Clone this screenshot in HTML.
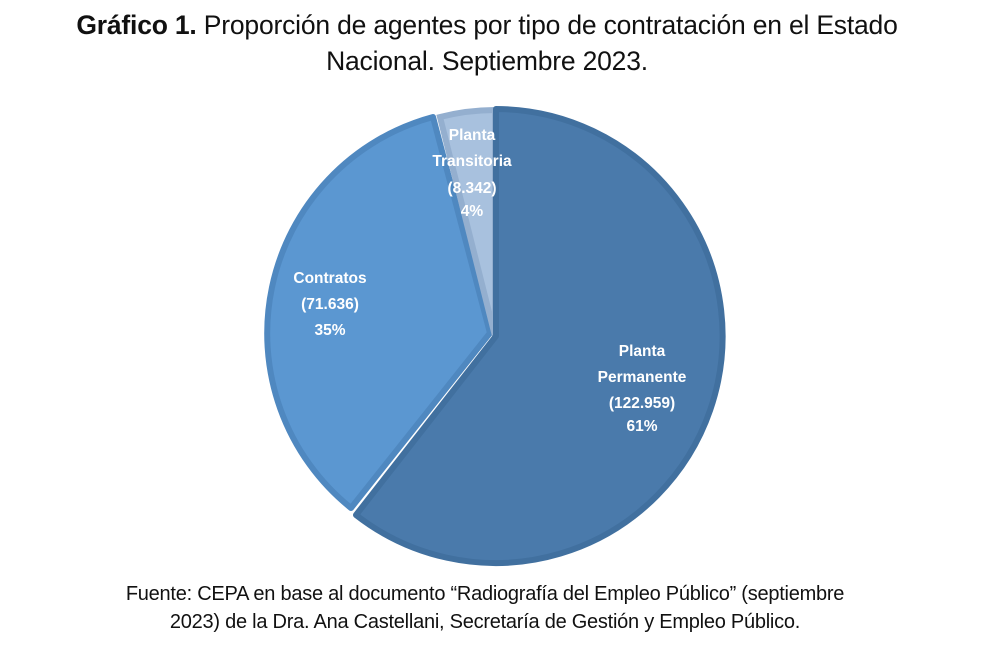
<!DOCTYPE html>
<html><head><meta charset="utf-8"><style>
body{margin:0;width:992px;height:662px;background:#fff;font-family:"Liberation Sans",sans-serif;position:relative;overflow:hidden}
.t{position:absolute;left:0;width:974px;text-align:center;color:#111;font-size:26.5px;line-height:36px;top:7px;letter-spacing:-0.2px}
.f{position:absolute;left:0;width:970px;text-align:center;color:#111;font-size:20px;line-height:28px;top:580px;letter-spacing:-0.25px}
svg{position:absolute;left:0;top:0}
</style></head><body>
<div class="t"><b>Gráfico 1.</b> Proporción de agentes por tipo de contratación en el Estado<br>Nacional. Septiembre 2023.</div>
<svg width="992" height="662" font-family="Liberation Sans, sans-serif" font-size="15.5" fill="#fff">
<path d="M490,333 L351,508 A224,224 0 0 1 433,117 Z" fill="#5b97d1" stroke="#4f88c0" stroke-width="6" stroke-linejoin="round"/>
<path d="M495,336 L440,117 A226,226 0 0 1 495,110 Z" fill="#a8c1de" stroke="#94afcf" stroke-width="6"/>
<path d="M496,336 L496,109 A227,227 0 1 1 356,515 Z" fill="#4a7aab" stroke="#41709f" stroke-width="6" stroke-linejoin="round"/>
<g text-anchor="middle" font-weight="bold">
<text x="472" y="140">Planta</text><text x="472" y="166">Transitoria</text><text x="472" y="193">(8.342)</text><text x="472" y="216">4%</text>
<text x="330" y="283">Contratos</text><text x="330" y="309">(71.636)</text><text x="330" y="335">35%</text>
<text x="642" y="356">Planta</text><text x="642" y="382">Permanente</text><text x="642" y="408">(122.959)</text><text x="642" y="431">61%</text>
</g></svg>
<div class="f">Fuente: CEPA en base al documento “Radiografía del Empleo Público” (septiembre<br>2023) de la Dra. Ana Castellani, Secretaría de Gestión y Empleo Público.</div>
</body></html>
